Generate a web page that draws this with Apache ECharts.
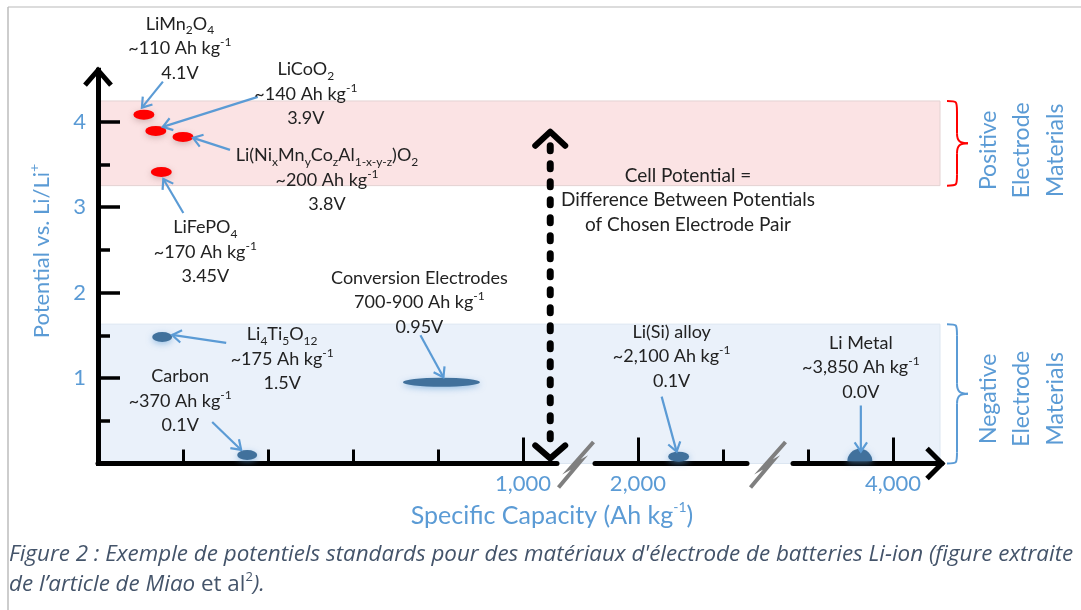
<!DOCTYPE html>
<html>
<head>
<meta charset="utf-8">
<script src="https://cdn.jsdelivr.net/npm/echarts@6/dist/echarts.min.js"></script>
<style>
  html, body { margin: 0; background: #fff; }
  #chart { width: 1081px; height: 610px; }
</style>
</head>
<body>
<div id="chart"></div>
<script>
// ---- data ----
const potentialTicks = [1, 2, 3, 4];
const potentialHalfTicks = [0.5, 1.5, 2.5, 3.5];
const capacityMinorTicks = [[200, 400, 600, 800], [2200], [3800]];
const capacityMajorTicks = [[1000], [2000], [4000]];
const segmentRanges = [[0, 1080], [1899, 2257], [3765, 4115]];

const positiveCapacity = [108, 136, 200, 149];
const positiveVoltage = [4.08, 3.89, 3.82, 3.41];
const negativeCapacity = [151, 351, 808];
const negativeVoltage = [1.48, 0.10, 0.95];
const alloyCapacity = [2096];
const alloyVoltage = [0.08];
const metalCapacity = [3922];
const metalVoltage = [0];

const positiveBand = [3.25, 4.24];
const negativeBand = [0, 1.63];
const bandCapacityEnd = 1981;
const cellArrowCapacity = 1064;
const cellArrowVoltage = [3.88, 0.06];

const positiveLabels = [
  'LiMn{sub|2}O{sub|4}\n~110 Ah kg{sup|-1}\n4.1V',
  'LiCoO{sub|2}\n~140 Ah kg{sup|-1}\n3.9V',
  'Li(Ni{sub|x}Mn{sub|y}Co{sub|z}Al{sub|1-x-y-z})O{sub|2}\n~200 Ah kg{sup|-1}\n3.8V',
  'LiFePO{sub|4}\n~170 Ah kg{sup|-1}\n3.45V'
];
const negativeLabels = [
  'Li{sub|4}Ti{sub|5}O{sub|12}\n~175 Ah kg{sup|-1}\n1.5V',
  'Carbon\n~370 Ah kg{sup|-1}\n0.1V',
  'Conversion Electrodes\n700-900 Ah kg{sup|-1}\n0.95V'
];
const alloyLabels = ['Li(Si) alloy\n~2,100 Ah kg{sup|-1}\n0.1V'];
const metalLabels = ['Li Metal\n~3,850 Ah kg{sup|-1}\n0.0V'];

// ---- layout (pixel offsets from each mark) ----
const positiveLayout = [
  { label: [36, -66], from: [19, -33], to: [-2, -7] },
  { label: [150, -37], from: [102, -34], to: [7, -4] },
  { label: [144, 43], from: [47, 13], to: [10, 1] },
  { label: [44, 80], from: [22, 41], to: [2, 7] }
];
const negativeLayout = [
  { label: [120, 22], from: [64, 6], to: [10, -2] },
  { label: [-67, -54], from: [-35, -33], to: [-6, -5] },
  { label: [-22, -80], from: [-21, -47], to: [2, -5] }
];
const alloyLayout = [{ label: [-7, -100], from: [-17, -60], to: [-2, -5] }];
const metalLayout = [{ label: [1, -96], from: [1, -58], to: [1, -12] }];

const positiveSizes = [[21, 10], [21, 10], [21, 10], [21, 10]];
const negativeSizes = [[20, 10], [20, 10], [77, 9]];

const FONT = 'Lato, "Open Sans", sans-serif';
const BLUE = '#5B9BD5';
const DOT = '#41719C';

const chart = echarts.init(document.getElementById('chart'));

const gridY = { top: 70.2, bottom: 146.5 };
const segGrids = [
  { left: 98, width: 459 },
  { left: 595, width: 152 },
  { left: 793, width: 149 }
];

const xAxes = [{ gridIndex: 0, type: 'value', min: 0, max: bandCapacityEnd, show: false }];
segGrids.forEach((g, i) => {
  xAxes.push({
    gridIndex: i + 1, type: 'value', position: 'bottom',
    min: segmentRanges[i][0], max: segmentRanges[i][1],
    axisLine: { lineStyle: { color: '#000', width: 5 } },
    axisTick: { inside: true, length: 14, customValues: capacityMinorTicks[i], lineStyle: { color: '#000', width: 3 } },
    axisLabel: { show: false },
    splitLine: { show: false }
  });
  xAxes.push({
    gridIndex: i + 1, type: 'value', position: 'bottom',
    min: segmentRanges[i][0], max: segmentRanges[i][1],
    axisLine: { show: false },
    axisTick: { inside: true, length: 26, customValues: capacityMajorTicks[i], lineStyle: { color: '#000', width: 3 } },
    axisLabel: {
      customValues: capacityMajorTicks[i], margin: 9, color: BLUE, fontSize: 22, fontFamily: FONT,
      formatter: v => v.toLocaleString('en-US')
    },
    splitLine: { show: false }
  });
});

const yAxes = [
  {
    gridIndex: 0, type: 'value', position: 'left', min: 0, max: 4.6,
    axisLine: { lineStyle: { color: '#000', width: 5, cap: 'square' } },
    axisTick: { inside: true, length: 22, customValues: potentialTicks, lineStyle: { color: '#000', width: 3.5 } },
    axisLabel: { customValues: potentialTicks, margin: 12, color: BLUE, fontSize: 22, fontFamily: FONT },
    splitLine: { show: false }
  },
  {
    gridIndex: 0, type: 'value', position: 'left', min: 0, max: 4.6,
    axisLine: { show: false },
    axisTick: { inside: true, length: 12, customValues: potentialHalfTicks, lineStyle: { color: '#000', width: 3.5 } },
    axisLabel: { show: false },
    splitLine: { show: false }
  }
];
segGrids.forEach((g, i) => {
  yAxes.push({ gridIndex: i + 1, type: 'value', min: 0, max: 4.6, show: false });
});

function points(caps, volts, sizes) {
  return caps.map((c, i) => sizes ? { value: [c, volts[i]], symbolSize: sizes[i] } : [c, volts[i]]);
}

const dotShadow = { shadowBlur: 6, shadowOffsetY: 2, shadowColor: 'rgba(91,155,213,0.55)' };

const option = {
  backgroundColor: '#fff',
  animation: false,
  grid: [
    { left: 98, width: 842, top: gridY.top, bottom: gridY.bottom }
  ].concat(segGrids.map(g => ({ left: g.left, width: g.width, top: gridY.top, bottom: gridY.bottom }))),
  xAxis: xAxes,
  yAxis: yAxes,
  series: [
    {
      name: 'Positive', type: 'scatter', xAxisIndex: 0, yAxisIndex: 0, clip: false, z: 5,
      data: points(positiveCapacity, positiveVoltage, positiveSizes),
      itemStyle: { color: '#FF0000', shadowBlur: 6, shadowOffsetY: 2, shadowColor: 'rgba(160,120,120,0.45)', opacity: 1 },
      markArea: {
        silent: true, z: 0,
        itemStyle: { color: '#FBE3E4', borderColor: '#E3D2D2', borderWidth: 1 },
        label: { show: false },
        data: [[{ xAxis: 0, yAxis: positiveBand[0] }, { xAxis: bandCapacityEnd, yAxis: positiveBand[1] }]]
      }
    },
    {
      name: 'Negative', type: 'scatter', xAxisIndex: 0, yAxisIndex: 0, clip: false, z: 5,
      data: points(negativeCapacity, negativeVoltage, negativeSizes),
      itemStyle: Object.assign({ color: DOT, opacity: 1 }, dotShadow),
      markArea: {
        silent: true, z: 0,
        itemStyle: { color: '#EAF1FA', borderColor: '#DCE6F1', borderWidth: 1 },
        label: { show: false },
        data: [[{ xAxis: 0, yAxis: negativeBand[0] }, { xAxis: bandCapacityEnd, yAxis: negativeBand[1] }]]
      }
    },
    {
      name: 'Alloy', type: 'scatter', xAxisIndex: 3, yAxisIndex: 3, clip: false, z: 5,
      symbolSize: [21, 10],
      data: points(alloyCapacity, alloyVoltage),
      itemStyle: Object.assign({ color: DOT, opacity: 1 }, dotShadow)
    },
    {
      name: 'Metal', type: 'scatter', xAxisIndex: 5, yAxisIndex: 4, clip: false, z: 5,
      symbol: 'path://M0,10 A10,10 0 0 1 20,10 Z', symbolKeepAspect: false,
      symbolSize: [25, 12.5], symbolOffset: [0, -8.5],
      data: points(metalCapacity, metalVoltage),
      itemStyle: Object.assign({ color: DOT, opacity: 1 }, dotShadow)
    }
  ]
};

chart.setOption(option);

// ---- annotations ----
const richText = {
  sub: { fontSize: 12, lineHeight: 17, verticalAlign: 'bottom', fontFamily: FONT, fill: '#222', color: '#222' },
  sup: { fontSize: 12, lineHeight: 17, verticalAlign: 'top', fontFamily: FONT, fill: '#222', color: '#222' }
};

function textEl(x, y, text, opts) {
  opts = opts || {};
  return {
    type: 'text', z: 100, x: x, y: y, rotation: opts.rotation || 0, silent: true,
    style: {
      text: text, x: 0, y: 0,
      fill: opts.color || '#222',
      fontSize: opts.size || 18, fontFamily: opts.family || FONT, fontStyle: opts.style || 'normal',
      lineHeight: opts.lineHeight || 24.5,
      align: opts.align || 'center', textAlign: opts.align || 'center',
      verticalAlign: 'middle', textVerticalAlign: 'middle',
      rich: opts.rich || richText
    }
  };
}

function arrowEls(s, e, color, width, head) {
  const ang = Math.atan2(e[1] - s[1], e[0] - s[0]);
  const L = head || 11, A = 0.6;
  const p1 = [e[0] - L * Math.cos(ang - A), e[1] - L * Math.sin(ang - A)];
  const p2 = [e[0] - L * Math.cos(ang + A), e[1] - L * Math.sin(ang + A)];
  return [
    { type: 'line', z: 90, silent: true, shape: { x1: s[0], y1: s[1], x2: e[0], y2: e[1] }, style: { stroke: color, lineWidth: width } },
    { type: 'polyline', z: 90, silent: true, shape: { points: [p1, e, p2] }, style: { stroke: color, lineWidth: width, fill: 'none' } }
  ];
}

const els = [];

function annotate(seriesIndex, caps, volts, labels, layout) {
  caps.forEach((c, i) => {
    const p = chart.convertToPixel({ seriesIndex: seriesIndex }, [c, volts[i]]);
    const l = layout[i];
    els.push(textEl(p[0] + l.label[0], p[1] + l.label[1], labels[i]));
    arrowEls([p[0] + l.from[0], p[1] + l.from[1]], [p[0] + l.to[0], p[1] + l.to[1]], BLUE, 2.2).forEach(e => els.push(e));
  });
}
annotate(0, positiveCapacity, positiveVoltage, positiveLabels, positiveLayout);
annotate(1, negativeCapacity, negativeVoltage, negativeLabels, negativeLayout);
annotate(2, alloyCapacity, alloyVoltage, alloyLabels, alloyLayout);
annotate(3, metalCapacity, metalVoltage, metalLabels, metalLayout);

// axis arrow heads
const origin = chart.convertToPixel({ seriesIndex: 0 }, [0, 0]);
const yTop = chart.convertToPixel({ seriesIndex: 0 }, [0, 4.6]);
els.push({ type: 'polyline', z: 95, silent: true, shape: { points: [[yTop[0] - 13, yTop[1] + 15], [yTop[0], yTop[1]], [yTop[0] + 13, yTop[1] + 15]] },
  style: { stroke: '#000', lineWidth: 5, fill: 'none', lineJoin: 'miter' } });
const xEnd = [942, origin[1]];
els.push({ type: 'polyline', z: 95, silent: true, shape: { points: [[xEnd[0] - 15, xEnd[1] - 15], xEnd, [xEnd[0] - 15, xEnd[1] + 15]] },
  style: { stroke: '#000', lineWidth: 5, fill: 'none', lineJoin: 'miter' } });

// axis breaks
[576, 768].forEach(cx => {
  const cy = origin[1] + 1;
  els.push({ type: 'polyline', z: 95, silent: true,
    shape: { points: [[cx - 17.5, cy + 23], [cx + 3.5, cy - 2], [cx - 4.5, cy + 2.5], [cx + 17.5, cy - 22.5]] },
    style: { stroke: '#7F7F7F', lineWidth: 4, fill: 'none' } });
});

// cell potential double arrow
const ca = chart.convertToPixel({ seriesIndex: 1 }, [cellArrowCapacity, cellArrowVoltage[0]]);
const cb = chart.convertToPixel({ seriesIndex: 1 }, [cellArrowCapacity, cellArrowVoltage[1]]);
els.push({ type: 'line', z: 95, silent: true, shape: { x1: ca[0], y1: ca[1] + 14, x2: cb[0], y2: cb[1] - 14 },
  style: { stroke: '#000', lineWidth: 7, lineDash: [5, 13], lineCap: 'round' } });
els.push({ type: 'polyline', z: 95, silent: true, shape: { points: [[ca[0] - 15, ca[1] + 14], ca, [ca[0] + 15, ca[1] + 14]] },
  style: { stroke: '#000', lineWidth: 6, fill: 'none', lineCap: 'round', lineJoin: 'round' } });
els.push({ type: 'polyline', z: 95, silent: true, shape: { points: [[cb[0] - 15, cb[1] - 13], cb, [cb[0] + 15, cb[1] - 13]] },
  style: { stroke: '#000', lineWidth: 6, fill: 'none', lineCap: 'round', lineJoin: 'round' } });
els.push(textEl(688, 200, 'Cell Potential =\nDifference Between Potentials\nof Chosen Electrode Pair', { size: 19, lineHeight: 24.5 }));

// braces
function braceEls(x0, top, bottom, color) {
  const s = x0 + 10, tip = x0 + 21, mid = (top + bottom) / 2;
  const st = { stroke: color, lineWidth: 2, fill: 'none' };
  return [
    { type: 'bezierCurve', shape: { x1: x0, y1: top, cpx1: s, cpy1: top, cpx2: s, cpy2: top, x2: s, y2: top + 11 } },
    { type: 'line', shape: { x1: s, y1: top + 11, x2: s, y2: mid - 10 } },
    { type: 'bezierCurve', shape: { x1: s, y1: mid - 10, cpx1: s, cpy1: mid - 2, cpx2: s + 3, cpy2: mid, x2: tip, y2: mid } },
    { type: 'bezierCurve', shape: { x1: tip, y1: mid, cpx1: s + 3, cpy1: mid, cpx2: s, cpy2: mid + 2, x2: s, y2: mid + 10 } },
    { type: 'line', shape: { x1: s, y1: mid + 10, x2: s, y2: bottom - 11 } },
    { type: 'bezierCurve', shape: { x1: s, y1: bottom - 11, cpx1: s, cpy1: bottom, cpx2: s, cpy2: bottom, x2: x0, y2: bottom } }
  ].map(e => Object.assign(e, { z: 95, silent: true, style: st }));
}
const bandRight = chart.convertToPixel({ seriesIndex: 0 }, [bandCapacityEnd, 0])[0];
const pTop = chart.convertToPixel({ seriesIndex: 0 }, [0, positiveBand[1]])[1];
const pBot = chart.convertToPixel({ seriesIndex: 0 }, [0, positiveBand[0]])[1];
const nTop = chart.convertToPixel({ seriesIndex: 0 }, [0, negativeBand[1]])[1];
const nBot = chart.convertToPixel({ seriesIndex: 0 }, [0, negativeBand[0]])[1];
braceEls(bandRight + 7, pTop, pBot, '#FF0000').forEach(e => els.push(e));
braceEls(bandRight + 7, nTop, nBot, BLUE).forEach(e => els.push(e));
els.push(textEl(bandRight + 82, (pTop + pBot) / 2 + 7, 'Positive\nElectrode\nMaterials', { rotation: Math.PI / 2, size: 23, color: BLUE, lineHeight: 33.5 }));
els.push(textEl(bandRight + 82, (nTop + nBot) / 2 + 5, 'Negative\nElectrode\nMaterials', { rotation: Math.PI / 2, size: 23, color: BLUE, lineHeight: 33.5 }));

// axis names
const blueRich = {
  sup: { fontSize: 14, lineHeight: 20, verticalAlign: 'top', fontFamily: FONT, fill: BLUE, color: BLUE }
};
els.push(textEl(42, 251, 'Potential vs. Li/Li{sup|+}', { rotation: Math.PI / 2, size: 22, color: BLUE, lineHeight: 30, rich: blueRich }));
els.push(textEl(552, 516, 'Specific Capacity (Ah kg{sup|-1})', { size: 25, color: BLUE, lineHeight: 32, rich: blueRich }));

// caption
const CAP = '#44546A';
const CAPFONT = '"Open Sans", Lato, sans-serif';
const capRich = {
  n: { fontSize: 22.4, fontStyle: 'normal', fontFamily: CAPFONT, fill: CAP, color: CAP, lineHeight: 28 },
  i: { fontSize: 22.4, fontStyle: 'italic', fontFamily: CAPFONT, fill: CAP, color: CAP, lineHeight: 28 },
  sup: { fontSize: 13, fontStyle: 'normal', fontFamily: CAPFONT, fill: CAP, color: CAP, lineHeight: 18, verticalAlign: 'top' }
};
els.push(textEl(9, 555, "Figure 2 : Exemple de potentiels standards pour des matériaux d'électrode de batteries Li-ion (figure extraite",
  { align: 'left', size: 22.4, style: 'italic', family: CAPFONT, color: CAP, lineHeight: 28, rich: capRich }));
els.push(textEl(9, 585, '{i|de l’article de Miao }{n|et al}{sup|2}{i|).}',
  { align: 'left', size: 22.4, style: 'italic', family: CAPFONT, color: CAP, lineHeight: 28, rich: capRich }));

// frame
els.push({ type: 'line', z: 1, silent: true, shape: { x1: 8, y1: 7, x2: 1081, y2: 7 }, style: { stroke: '#D0D0D0', lineWidth: 1.5 } });
els.push({ type: 'line', z: 1, silent: true, shape: { x1: 8, y1: 7, x2: 8, y2: 610 }, style: { stroke: '#BDBDBD', lineWidth: 1.5 } });

chart.setOption({ graphic: { elements: els } });
</script>
</body>
</html>
